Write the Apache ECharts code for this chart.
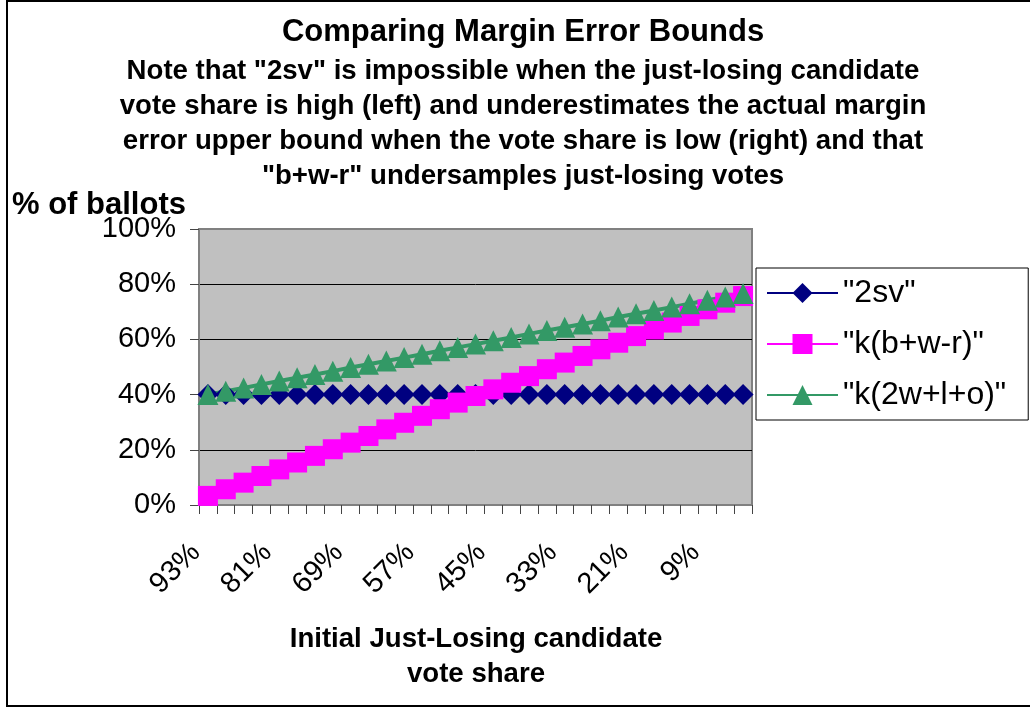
<!DOCTYPE html>
<html><head><meta charset="utf-8">
<script src="https://cdn.jsdelivr.net/npm/echarts@6/dist/echarts.min.js"></script>
<style>html,body{margin:0;padding:0;background:#fff}#c{width:1030px;height:707px}</style>
</head><body><div id="c"></div>
<script>
const categories = ['93%','90%','87%','84%','81%','78%','75%','72%','69%','66%','63%','60%','57%','54%','51%','48%','45%','42%','39%','36%','33%','30%','27%','24%','21%','18%','15%','12%','9%','6%','3%'];
const sv2 = [40,40,40,40,40,40,40,40,40,40,40,40,40,40,40,40,40,40,40,40,40,40,40,40,40,40,40,40,40,40,40];
const kbwr = [3.3,5.7,8.1,10.5,12.9,15.4,17.8,20.2,22.6,25.0,27.4,29.8,32.3,34.7,37.1,39.5,41.9,44.3,46.7,49.2,51.6,54.0,56.4,58.8,61.2,63.6,66.1,68.5,70.9,73.3,75.7];
const k2wlo = [40.0,41.2,42.4,43.7,44.9,46.1,47.3,48.5,49.8,51.0,52.2,53.4,54.6,55.9,57.1,58.3,59.5,60.7,62.0,63.2,64.4,65.6,66.8,68.1,69.3,70.5,71.7,72.9,74.2,75.4,76.6];
const seriesNames = ['"2sv"', '"k(b+w-r)"', '"k(2w+l+o)"'];
const titleText = 'Comparing Margin Error Bounds';
const subtitleLines = [
  'Note that "2sv" is impossible when the just-losing candidate',
  'vote share is high (left) and underestimates the actual margin',
  'error upper bound when the vote share is low (right) and that',
  '"b+w-r" undersamples just-losing votes'
];
const yName = '% of ballots';
const xNameLines = ['Initial Just-Losing candidate', 'vote share'];

const FF = '"Liberation Sans", Arial, Helvetica, sans-serif';
const chart = echarts.init(document.getElementById('c'), null, {renderer: 'canvas'});

const graphics = [
  {type: 'rect', shape: {x: 7, y: 1, width: 1040, height: 705}, style: {fill: 'none', stroke: '#000', lineWidth: 2}, silent: true},
  {type: 'text', x: 523, y: 32, style: {text: titleText, fontFamily: FF, fontWeight: 'bold', fontSize: 31, fill: '#000', textAlign: 'center', textVerticalAlign: 'middle'}}
];
subtitleLines.forEach((t, i) => {
  graphics.push({type: 'text', x: 523, y: 71 + i * 35, style: {text: t, fontFamily: FF, fontWeight: 'bold', fontSize: 27.6, fill: '#000', textAlign: 'center', textVerticalAlign: 'middle'}});
});
graphics.push({type: 'text', x: 12, y: 205, style: {text: yName, fontFamily: FF, fontWeight: 'bold', fontSize: 31, fill: '#000', textAlign: 'left', textVerticalAlign: 'middle'}});
xNameLines.forEach((t, i) => {
  graphics.push({type: 'text', x: 476, y: 639 + i * 35, style: {text: t, fontFamily: FF, fontWeight: 'bold', fontSize: 27.6, fill: '#000', textAlign: 'center', textVerticalAlign: 'middle'}});
});

const option = {
  animation: false,
  backgroundColor: '#fff',
  textStyle: {fontFamily: FF},
  graphic: graphics,
  grid: {left: 199, top: 229, width: 553, height: 276, show: true, backgroundColor: '#C0C0C0', borderColor: '#808080', borderWidth: 2, containLabel: false, outerBoundsMode: 'none'},
  legend: {
    orient: 'vertical', left: 756, top: 268,
    data: seriesNames,
    itemWidth: 71, itemHeight: 25, itemGap: 19,
    padding: [9, 22, 9, 10],
    borderColor: '#000', borderWidth: 1, backgroundColor: '#fff',
    textStyle: {fontSize: 32, color: '#000', fontFamily: FF}
  },
  xAxis: {
    type: 'category', data: categories, boundaryGap: true,
    axisLine: {show: true, lineStyle: {color: '#808080', width: 2}},
    axisTick: {show: true, interval: 0, length: 9, lineStyle: {color: '#444', width: 1}},
    axisLabel: {interval: 3, rotate: 45, fontSize: 29, color: '#000', margin: 31, padding: [0, 17, 0, 0], fontFamily: FF},
    splitLine: {show: false}
  },
  yAxis: {
    type: 'value', min: 0, max: 100, interval: 20,
    axisLine: {show: true, lineStyle: {color: '#808080', width: 2}},
    axisTick: {show: true, length: 9, lineStyle: {color: '#444', width: 1}},
    axisLabel: {formatter: '{value}%', fontSize: 29, color: '#000', margin: 23, fontFamily: FF},
    splitLine: {show: true, showMinLine: false, showMaxLine: false, lineStyle: {color: '#000', width: 1}}
  },
  series: [
    {name: seriesNames[0], type: 'line', data: sv2, showAllSymbol: true, symbol: 'diamond', symbolSize: 21, lineStyle: {color: '#000080', width: 3}, itemStyle: {color: '#000080'}},
    {name: seriesNames[1], type: 'line', data: kbwr, showAllSymbol: true, symbol: 'rect', symbolSize: 20, lineStyle: {color: '#FF00FF', width: 3}, itemStyle: {color: '#FF00FF'}},
    {name: seriesNames[2], type: 'line', data: k2wlo, showAllSymbol: true, symbol: 'triangle', symbolSize: 21, lineStyle: {color: '#339966', width: 4}, itemStyle: {color: '#339966'}}
  ]
};
chart.setOption(option);
</script></body></html>
